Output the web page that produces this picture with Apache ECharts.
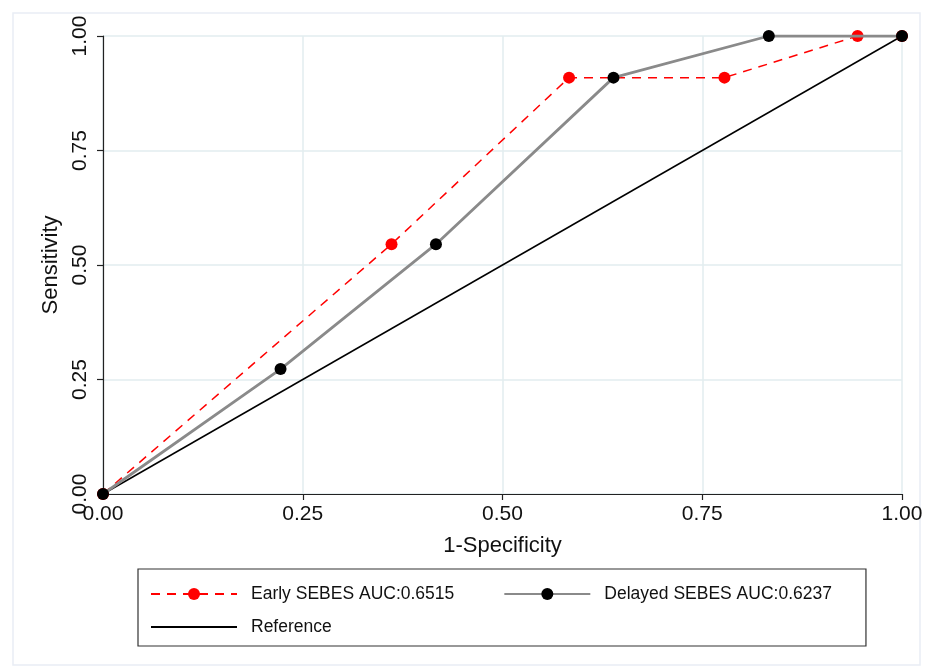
<!DOCTYPE html>
<html>
<head>
<meta charset="utf-8">
<script src="https://cdn.jsdelivr.net/npm/echarts@6/dist/echarts.min.js"></script>
<style>
  html, body { margin: 0; padding: 0; background: #fff; }
  #chart { width: 926px; height: 668px; }
</style>
</head>
<body>
<div id="chart"></div>
<script>
// ROC points
const earlyX = [0, 0.3611, 0.5833, 0.7778, 0.9444, 1]
const earlyY = [0, 0.5455, 0.9091, 0.9091, 1, 1]
const delayedX = [0, 0.2222, 0.4167, 0.6389, 0.8333, 1]
const delayedY = [0, 0.2727, 0.5455, 0.9091, 1, 1]
const refX = [0, 1]
const refY = [0, 1]
const seriesNames = ['Early SEBES AUC:0.6515', 'Delayed SEBES AUC:0.6237', 'Reference']

const pairs = (xs, ys) => xs.map((x, i) => [x, ys[i]])
const font = '"Liberation Sans", Arial, sans-serif'

const chart = echarts.init(document.getElementById('chart'))

const axisCommon = {
  type: 'value',
  min: 0,
  max: 1,
  interval: 0.25,
  nameLocation: 'middle',
  nameTextStyle: { fontFamily: font, fontSize: 22, color: '#111' },
  axisLine: { show: true, lineStyle: { color: '#222', width: 1.2 } },
  axisTick: { show: true, inside: false, length: 6, lineStyle: { color: '#222', width: 1.2 } },
  axisLabel: {
    fontFamily: font, fontSize: 21, color: '#111',
    formatter: v => v.toFixed(2)
  },
  splitLine: { show: true, lineStyle: { color: '#e2ecef', width: 1.5 } }
}

chart.setOption({
  animation: false,
  backgroundColor: '#fff',
  graphic: [{
    type: 'rect',
    shape: { x: 13, y: 13, width: 907, height: 652 },
    style: { fill: 'none', stroke: '#e9edf5', lineWidth: 1.5 },
    silent: true
  }],
  grid: { left: 103, right: 24, top: 36, bottom: 174 },
  xAxis: Object.assign({}, axisCommon, {
    name: '1-Specificity',
    nameGap: 41,
    axisLabel: Object.assign({}, axisCommon.axisLabel, { margin: 10 })
  }),
  yAxis: Object.assign({}, axisCommon, {
    name: 'Sensitivity',
    nameGap: 37,
    axisLabel: Object.assign({}, axisCommon.axisLabel, { rotate: 90, margin: 12 })
  }),
  legend: {
    data: [
      { name: seriesNames[0] },
      { name: seriesNames[1] },
      { name: seriesNames[2], itemStyle: { color: 'rgba(0,0,0,0)', borderWidth: 0 } }
    ],
    // wider gap after the first entry, as in the picture
    formatter: name => name === seriesNames[0] ? name + '\u00a0'.repeat(7) : name,
    left: 138,
    top: 569,
    width: 730,
    orient: 'horizontal',
    itemWidth: 86,
    itemHeight: 15,
    itemGap: 15,
    padding: [16, 34, 10, 12],
    borderColor: '#333',
    borderWidth: 1.2,
    textStyle: {
      fontFamily: font, fontSize: 17.5, color: '#111',
      padding: [0, 0, 0, 9]
    }
  },
  series: [
    {
      name: seriesNames[0],
      type: 'line',
      data: pairs(earlyX, earlyY),
      symbol: 'circle',
      symbolSize: 12,
      itemStyle: { color: '#ff0000' },
      lineStyle: { color: '#ff0000', width: 1.5, type: [9, 7] },
      z: 3
    },
    {
      name: seriesNames[1],
      type: 'line',
      data: pairs(delayedX, delayedY),
      symbol: 'circle',
      symbolSize: 12,
      itemStyle: { color: '#000' },
      lineStyle: { color: '#8a8a8a', width: 2.8 },
      z: 4
    },
    {
      name: seriesNames[2],
      type: 'line',
      data: pairs(refX, refY),
      symbol: 'none',
      itemStyle: { color: '#000' },
      lineStyle: { color: '#000', width: 1.5 },
      z: 2
    }
  ]
})
</script>
</body>
</html>
